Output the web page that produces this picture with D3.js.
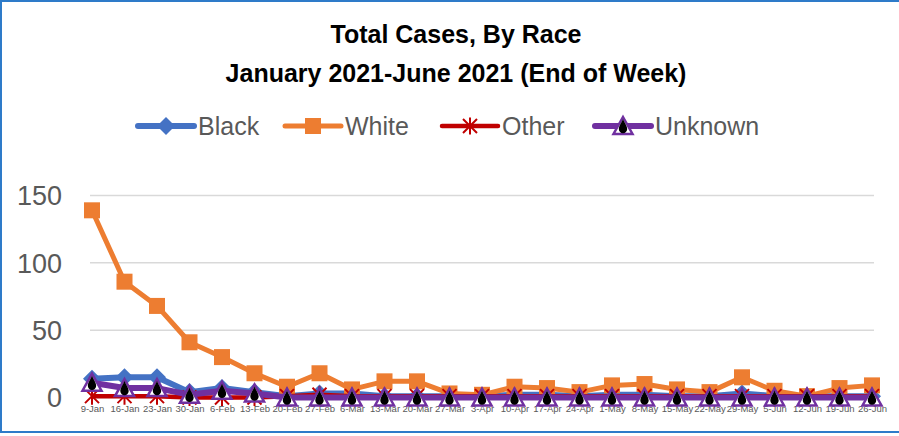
<!DOCTYPE html>
<html>
<head>
<meta charset="utf-8">
<script src="https://cdn.jsdelivr.net/npm/d3@7"></script>
<style>
  body { margin: 0; background: #fff; }
  svg { display: block; font-family: "Liberation Sans", Arial, sans-serif; }
</style>
</head>
<body>
<svg width="899" height="436"></svg>
<script>
// weeks (end of week), Jan - Jun 2021
const weeks = ["9-Jan", "16-Jan", "23-Jan", "30-Jan", "6-Feb", "13-Feb", "20-Feb", "27-Feb", "6-Mar", "13-Mar", "20-Mar", "27-Mar", "3-Apr", "10-Apr", "17-Apr", "24-Apr", "1-May", "8-May", "15-May", "22-May", "29-May", "5-Jun", "12-Jun", "19-Jun", "26-Jun"];

const black = [14, 15, 15, 4, 7, 4, 1, 3, 3, 1, 1, 1, 1, 2, 2, 1, 2, 2, 1, 1, 3, 1, 1, 1, 1];
const white = [139, 86, 68, 41, 30, 18, 8, 18, 6, 12, 12, 3, 2, 8, 7, 4, 9, 10, 6, 4, 15, 5, 1, 7, 9];
const other = [1, 1, 1, 0, 0, 0, 1, 2, 1, 1, 1, 1, 1, 1, 1, 1, 1, 1, 1, 1, 1, 1, 1, 1, 1];
const unknown = [11, 7, 7, 2, 5, 3, 0, 0, 0, 0, 0, 0, 0, 0, 0, 0, 0, 0, 0, 0, 0, 0, 0, 0, 0];

const yTicks = [0, 50, 100, 150];

const series = [
  { name: "Black", values: black, color: "#4472C4", marker: "diamond", lw: 6 },
  { name: "White", values: white, color: "#ED7D31", marker: "square", lw: 5 },
  { name: "Other", values: other, color: "#C00000", marker: "star", lw: 4.5 },
  { name: "Unknown", values: unknown, color: "#7030A0", marker: "triangle", lw: 6 }
];

const svg = d3.select("svg");

// chart frame
svg.append("rect")
  .attr("x", 1).attr("y", 1)
  .attr("width", 902).attr("height", 431)
  .attr("fill", "#fff")
  .attr("stroke", "#2E7BC9")
  .attr("stroke-width", 2);

// title
const title = svg.append("text")
  .attr("text-anchor", "middle")
  .attr("font-weight", "bold")
  .attr("font-size", 25)
  .attr("fill", "#000");
title.append("tspan").attr("x", 456).attr("y", 43).text("Total Cases, By Race");
title.append("tspan").attr("x", 456).attr("y", 82).text("January 2021-June 2021 (End of Week)");

const x = d3.scalePoint()
  .domain(weeks)
  .range([92, 872]);

const y = d3.scaleLinear()
  .domain([0, 150])
  .range([397.5, 195.5]);

// gridlines
svg.append("g")
  .selectAll("line")
  .data(yTicks)
  .join("line")
  .attr("x1", 90).attr("x2", 874)
  .attr("y1", d => y(d)).attr("y2", d => y(d))
  .attr("stroke", "#D9D9D9")
  .attr("stroke-width", 1.5);

// y axis
const yAxis = svg.append("g")
  .attr("transform", "translate(62,0)")
  .call(d3.axisLeft(y).tickValues(yTicks).tickSize(0).tickPadding(0));
yAxis.select(".domain").remove();
yAxis.selectAll("text")
  .attr("font-family", "Liberation Sans, Arial, sans-serif")
  .attr("font-size", 27)
  .attr("fill", "#595959")
  .attr("dy", "0.35em");

// x axis
const xAxis = svg.append("g")
  .attr("transform", "translate(0,405)")
  .call(d3.axisBottom(x).tickSize(0).tickPadding(0));
xAxis.select(".domain").remove();
xAxis.selectAll("text")
  .attr("font-family", "Liberation Sans, Arial, sans-serif")
  .attr("font-size", 9.5)
  .attr("fill", "#595959");

function drawMarker(g, type, color) {
  if (type === "diamond") {
    g.append("path").attr("d", "M0,-9L9,0L0,9L-9,0Z").attr("fill", color);
  } else if (type === "square") {
    g.append("rect").attr("x", -8).attr("y", -8).attr("width", 16).attr("height", 16).attr("fill", color);
  } else if (type === "star") {
    g.append("path")
      .attr("d", "M0,-8.5L0,8.5M-7,-7L7,7M-7,7L7,-7")
      .attr("stroke", color).attr("stroke-width", 2).attr("fill", "none");
  } else if (type === "triangle") {
    g.append("path").attr("d", "M0,-9L9.5,8L-9.5,8Z")
      .attr("fill", "#fff").attr("stroke", color).attr("stroke-width", 2.5);
    g.append("path")
      .attr("d", "M0,-7C1.8,-2.5 4.2,0 4.2,3A4.2,4.2 0 1 1 -4.2,3C-4.2,0 -1.8,-2.5 0,-7Z")
      .attr("fill", "#000");
  }
}

const line = d3.line()
  .x((d, i) => x(weeks[i]))
  .y(d => y(d));

series.forEach(s => {
  const g = svg.append("g");
  g.append("path")
    .attr("d", line(s.values))
    .attr("fill", "none")
    .attr("stroke", s.color)
    .attr("stroke-width", s.lw)
    .attr("stroke-linejoin", "round");
  g.selectAll("g")
    .data(s.values)
    .join("g")
    .attr("transform", (d, i) => `translate(${x(weeks[i])},${y(d)})`)
    .each(function () { drawMarker(d3.select(this), s.marker, s.color); });
});

// legend
const legendX = [138, 285, 442, 595];
const legend = svg.append("g");
series.forEach((s, i) => {
  const g = legend.append("g").attr("transform", `translate(${legendX[i]},126)`);
  g.append("line")
    .attr("x1", 0).attr("x2", 56)
    .attr("stroke", s.color)
    .attr("stroke-width", s.lw)
    .attr("stroke-linecap", "round");
  drawMarker(g.append("g").attr("transform", "translate(28,0)"), s.marker, s.color);
  g.append("text")
    .attr("x", 60).attr("y", 0)
    .attr("dy", "0.35em")
    .attr("font-size", 25)
    .attr("fill", "#595959")
    .text(s.name);
});
</script>
</body>
</html>
